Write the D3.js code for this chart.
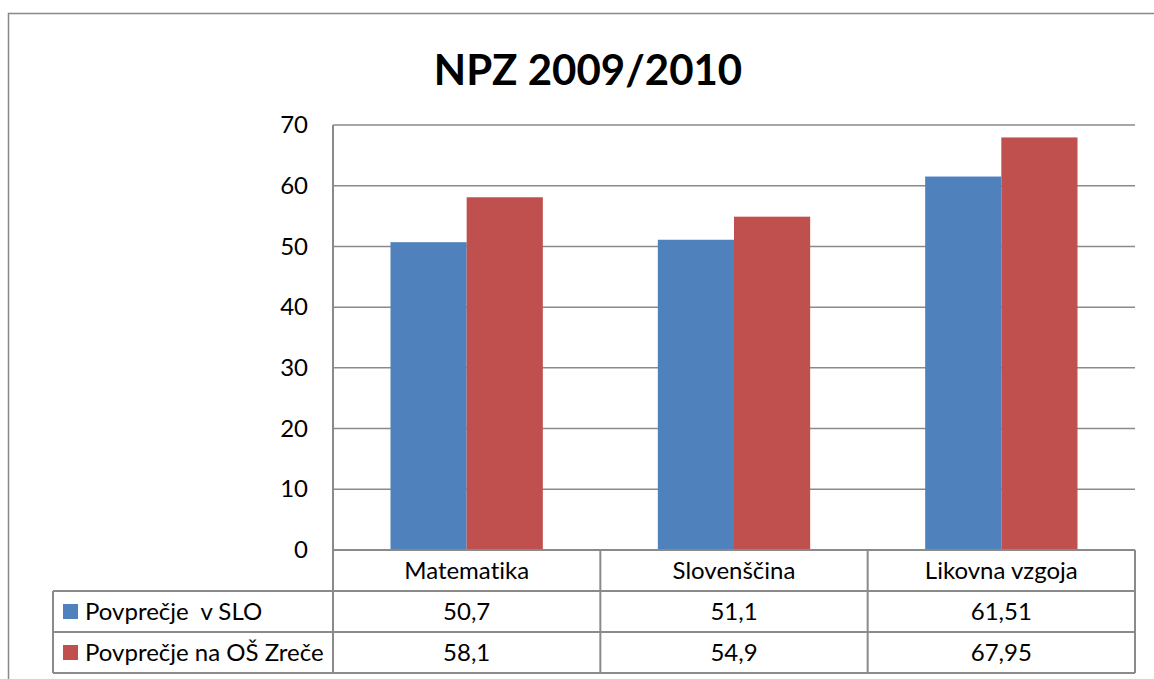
<!DOCTYPE html>
<html>
<head>
<meta charset="utf-8">
<script src="https://cdn.jsdelivr.net/npm/d3@7"></script>
<style>
  body { margin: 0; background: #fff; }
  svg { display: block; font-family: Lato, "Open Sans", sans-serif; font-variant-ligatures: none; }
</style>
</head>
<body>
<div id="chart"></div>
<script>
const categories = ["Matematika", "Slovenščina", "Likovna vzgoja"];
const seriesNames = ["Povprečje  v SLO", "Povprečje na OŠ Zreče"];
const sloValues = [50.7, 51.1, 61.51];
const zreceValues = [58.1, 54.9, 67.95];
const valueLabels = [["50,7", "51,1", "61,51"], ["58,1", "54,9", "67,95"]];
const yTicks = [0, 10, 20, 30, 40, 50, 60, 70];
const colors = ["#4f81bd", "#c0504d"];

const width = 1154, height = 679;
const margin = ({top: 125, right: 19, bottom: 129, left: 333});
const rowH = 41;
const tableLeft = 53;
const gridColor = "#8a8a8a";
const fontSize = 24;

const series = [sloValues, zreceValues];

const svg = d3.select("#chart").append("svg")
	.attr("width", width)
	.attr("height", height);

// outer frame (right and bottom run off the picture)
svg.append("path")
	.attr("d", `M8.5,${height}V13.5H${width}`)
	.attr("fill", "none")
	.attr("stroke", "#898989")
	.attr("stroke-width", 1.5);

const x = d3.scaleBand().domain(categories).range([margin.left, width - margin.right]);
const y = d3.scaleLinear().domain([0, 70]).range([height - margin.bottom, margin.top]);

const groupPad = 57.5;
const xs = d3.scaleBand().domain([0, 1]).range([groupPad, x.bandwidth() - groupPad]);

// title
svg.append("text")
	.attr("x", 588)
	.attr("y", 85)
	.attr("text-anchor", "middle")
	.attr("font-size", 42)
	.attr("font-weight", "bold")
	.attr("fill", "#000")
	.text("NPZ 2009/2010");

// gridlines
svg.append("g")
	.attr("class", "grid")
	.selectAll("line")
	.data(yTicks.filter(d => d > 0))
	.join("line")
		.attr("x1", margin.left)
		.attr("x2", width - margin.right)
		.attr("y1", d => y(d))
		.attr("y2", d => y(d))
		.attr("stroke", gridColor)
		.attr("stroke-width", 1.5);

// y axis labels
const yAxis = d3.axisLeft(y).tickValues(yTicks).tickSize(0).tickPadding(25);
svg.append("g")
	.attr("transform", `translate(${margin.left},0)`)
	.call(yAxis)
	.call(g => g.select(".domain").remove())
	.call(g => g.selectAll("text")
		.attr("font-family", "Lato, 'Open Sans', sans-serif")
		.attr("font-size", fontSize)
		.attr("fill", "#000"));

// bars
svg.append("g")
	.selectAll("g")
	.data(series)
	.join("g")
		.attr("fill", (d, i) => colors[i])
	.selectAll("rect")
	.data((d, i) => d.map((v, j) => ({v, j, i})))
	.join("rect")
		.attr("x", d => x(categories[d.j]) + xs(d.i))
		.attr("width", xs.bandwidth())
		.attr("y", d => y(d.v))
		.attr("height", d => y(0) - y(d.v));

// data table
const t0 = y(0);
const table = svg.append("g")
	.attr("stroke", gridColor)
	.attr("stroke-width", 2)
	.attr("fill", "none");

// horizontal lines
table.append("line").attr("x1", margin.left).attr("x2", width - margin.right).attr("y1", t0).attr("y2", t0);
[1, 2, 3].forEach(r => {
	table.append("line")
		.attr("x1", tableLeft)
		.attr("x2", width - margin.right)
		.attr("y1", t0 + r * rowH)
		.attr("y2", t0 + r * rowH);
});
// vertical lines
table.append("line").attr("x1", tableLeft).attr("x2", tableLeft).attr("y1", t0 + rowH).attr("y2", t0 + 3 * rowH);
table.append("line").attr("x1", margin.left).attr("x2", margin.left).attr("y1", margin.top).attr("y2", t0 + 3 * rowH);
categories.forEach(c => {
	const xr = x(c) + x.bandwidth();
	table.append("line").attr("x1", xr).attr("x2", xr).attr("y1", t0).attr("y2", t0 + 3 * rowH);
});

// category labels
svg.append("g")
	.selectAll("text")
	.data(categories)
	.join("text")
		.attr("x", d => x(d) + x.bandwidth() / 2)
		.attr("y", t0 + 29)
		.attr("text-anchor", "middle")
		.attr("font-size", fontSize)
		.text(d => d);

// legend column + values
seriesNames.forEach((name, i) => {
	const ry = t0 + (i + 1) * rowH;
	svg.append("rect")
		.attr("x", 63)
		.attr("y", ry + 13)
		.attr("width", 15)
		.attr("height", 15)
		.attr("fill", colors[i]);
	svg.append("text")
		.attr("x", 85)
		.attr("y", ry + 29)
		.attr("font-size", fontSize)
		.attr("xml:space", "preserve")
		.style("white-space", "pre")
		.text(name);
	svg.append("g")
		.selectAll("text")
		.data(valueLabels[i])
		.join("text")
			.attr("x", (d, j) => x(categories[j]) + x.bandwidth() / 2)
			.attr("y", ry + 29)
			.attr("text-anchor", "middle")
			.attr("font-size", fontSize)
			.text(d => d);
});
</script>
</body>
</html>
